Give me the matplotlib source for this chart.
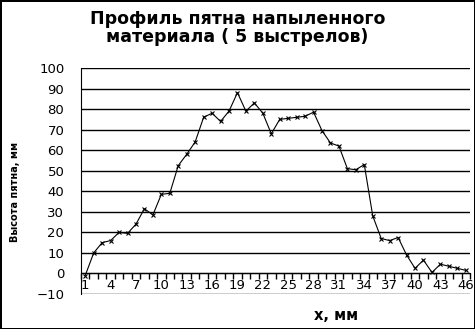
import numpy as np
import matplotlib
matplotlib.use('Agg')
import matplotlib.pyplot as plt
from matplotlib.ticker import FixedLocator

# profile data
x_pos = np.arange(1, 47)
height = [-1, 10, 15, 16, 20, 19.5, 24, 31.5, 28.5, 38.5,
          39, 52.5, 58, 64, 76, 78, 74, 79, 88, 79,
          83, 78, 68, 75, 75.5, 76, 76.5, 78.5, 69.5, 63.5,
          62, 51, 50.5, 53, 28, 17, 16, 17.5, 9, 2.5,
          6.5, 0.5, 4.5, 3.5, 2.5, 1.5]
x_labels = list(range(1, 47, 3))
y_ticks = list(range(-10, 101, 10))

title = 'Профиль пятна напыленного\nматериала ( 5 выстрелов)'
xlab = 'х, мм'
ylab = 'Высота пятна, мм'

plt.rcParams['font.family'] = ['DejaVu Sans']

fig = plt.figure(figsize=(4.75, 3.29), dpi=100)
fig.patch.set_edgecolor('black')
fig.patch.set_linewidth(2)
ax = fig.add_axes([81/475, 35/329, 389/475, 226/329])

ax.plot(x_pos, height, '-', color='black', lw=0.8,
        marker='x', ms=3, mew=0.8)

ax.set_xlim(0.5, 46.5)
ax.set_ylim(-10, 100)
ax.set_yticks(y_ticks)
ax.yaxis.grid(True, color='black', lw=1)
ax.set_axisbelow(True)

for s in ['top', 'right']:
    ax.spines[s].set_visible(False)
ax.spines['left'].set_color('black')
ax.spines['bottom'].set_position(('data', 0))
ax.spines['bottom'].set_color('black')

ax.xaxis.set_major_locator(FixedLocator(x_labels))
ax.set_xticklabels([str(v) for v in x_labels])
ax.xaxis.set_minor_locator(FixedLocator(np.arange(0.5, 47, 1)))
ax.tick_params(axis='x', which='major', length=0, pad=4, labelsize=9.5)
ax.tick_params(axis='x', which='minor', length=4, width=1, direction='out')
ax.tick_params(axis='y', length=0, pad=12, labelsize=9.5)

fig.text(0.5, 1 - 28.5/329, title, ha='center', va='center', fontsize=12.5,
         fontweight='bold', linespacing=1.0)
fig.text(336/475, 1 - 315/329, xlab, ha='center', va='center',
         fontsize=10.5, fontweight='bold')
fig.text(15/475, 1 - 192/329, ylab, ha='center', va='center',
         fontsize=7, fontweight='bold', rotation=90)

plt.savefig('out.png', dpi=100)
